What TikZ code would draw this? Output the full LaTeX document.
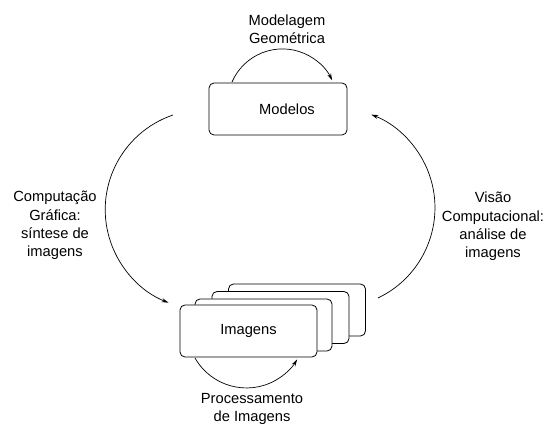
\documentclass[tikz,border=0pt]{standalone}
\usepackage{fontspec}
\setmainfont{Liberation Sans}
\usetikzlibrary{arrows.meta}
\begin{document}
\begin{tikzpicture}[x=1pt,y=1pt,
  box/.style={draw,line width=0.8pt,rounded corners=5pt,fill=white,
    minimum width=137pt,minimum height=52pt,inner sep=0pt},
  lbl/.style={align=center,font=\fontsize{14.7}{18.3}\selectfont},
  flow/.style={line width=0.7pt,-{Stealth[length=7pt,width=4pt]}}]
\useasboundingbox (0,0) rectangle (551,428);

% model box
\node[box,minimum width=138pt,font=\fontsize{14.7}{18}\selectfont] (modelos) at (278,319) {\hspace*{18pt}Modelos};

% stack of image frames, back to front
\node[box] (img4) at (297,118) {};
\node[box] (img3) at (280.5,110.5) {};
\node[box] (img2) at (263.5,103) {};
\node[box,font=\fontsize{14.7}{18}\selectfont] (img1) at (248.5,97) {Imagens};

% labels
\node[lbl] (modgeo) at (287,399) {Modelagem\\Geométrica};
\node[lbl] (proc) at (252,19) {Processamento\\de Imagens};
\node[lbl] (cg) at (55,202.5) {Computação\\Gráfica:\\síntese de\\imagens};
\node[lbl] (vc) at (493,201.5) {Visão\\Computacional:\\análise de\\imagens};

% arc end points
\coordinate (topstart) at (232,346);
\coordinate (botstart) at (195,70);
\coordinate (leftstart) at (173,313);
\coordinate (rightstart) at (378,130);

% cycle of arcs
\draw[flow] (topstart) arc[start angle=156.5,end angle=25.4,radius=55];
\draw[flow] (botstart) arc[start angle=209.6,end angle=328.8,radius=59.2];
\draw[flow] (leftstart) arc[start angle=108.8,end angle=248.5,radius=100];
\draw[flow] (rightstart) arc[start angle=-64.5,end angle=68.7,radius=100];
\end{tikzpicture}
\end{document}
